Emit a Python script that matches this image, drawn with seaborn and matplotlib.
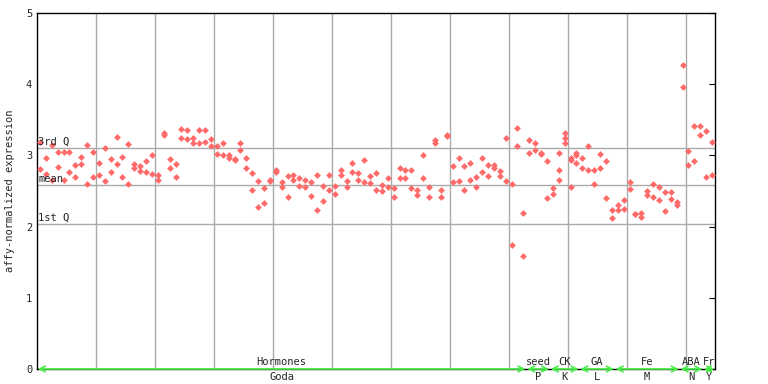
import seaborn as sns
import matplotlib.pyplot as plt
import pandas as pd

# values, one tuple of replicates per sample, by group
hormones = [
    (3.19, 2.81), (2.96, 2.74), (3.15, 2.65), (3.05, 2.84), (3.05, 2.65),
    (3.05, 2.76), (2.87, 2.70), (2.98, 2.88), (3.15, 2.60), (3.05, 2.70),
    (2.90, 2.72), (3.10, 2.64), (2.95, 2.76), (3.26, 2.88), (2.98, 2.70),
    (3.16, 2.60), (2.88, 2.82), (2.85, 2.78), (2.92, 2.77), (3.00, 2.74),
    (2.73, 2.66), (3.31, 3.29), (2.95, 2.83), (2.88, 2.69), (3.37, 3.24),
    (3.35, 3.23), (3.25, 3.17), (3.35, 3.17), (3.35, 3.19), (3.23, 3.13),
    (3.13, 3.02), (3.17, 3.01), (3.01, 2.97), (2.95, 2.93), (3.18, 3.07),
    (2.96, 2.82), (2.75, 2.51), (2.64, 2.28), (2.54, 2.33), (2.66, 2.64),
    (2.79, 2.76), (2.63, 2.56), (2.71, 2.42), (2.73, 2.66), (2.68, 2.57),
    (2.66, 2.55), (2.62, 2.43), (2.72, 2.24), (2.57, 2.36), (2.72, 2.52),
    (2.57, 2.46), (2.80, 2.72), (2.64, 2.55), (2.89, 2.76), (2.75, 2.65),
    (2.93, 2.62), (2.71, 2.61), (2.75, 2.51), (2.59, 2.50), (2.68, 2.55),
    (2.54, 2.41), (2.82, 2.68), (2.80, 2.68), (2.79, 2.54), (2.51, 2.44),
    (3.01, 2.68), (2.55, 2.41), (3.21, 3.18), (2.52, 2.42), (3.29, 3.27),
    (2.85, 2.62), (2.96, 2.64), (2.85, 2.52), (2.89, 2.65), (2.69, 2.55),
    (2.97, 2.76), (2.87, 2.71), (2.87, 2.82), (2.78, 2.71), (3.25, 2.64),
    (2.60, 1.74), (3.38, 3.13), (2.19, 1.59),
]
seed = [(3.22, 3.03), (3.18, 3.08), (3.03, 3.02), (2.92, 2.40)]
ck = [(2.54, 2.46), (3.04, 2.79, 2.66), (3.32, 3.25, 3.17),
      (2.97, 2.93, 2.56), (3.03, 3.00, 2.89)]
ga = [(2.97, 2.83), (3.13, 2.79), (2.79, 2.60), (3.02, 2.83), (2.92, 2.40),
      (2.24, 2.12)]
fe = [(2.31, 2.24), (2.38, 2.25), (2.63, 2.53), (2.18, 2.17), (2.19, 2.13),
      (2.50, 2.45), (2.60, 2.41), (2.56, 2.38), (2.49, 2.22), (2.49, 2.39),
      (2.35, 2.30)]
aba = [(4.27, 3.96), (3.06, 2.87), (3.41, 2.92), (3.41, 3.28)]
fr = [(3.34, 2.70), (3.19, 2.72)]

groups = [hormones, seed, ck, ga, fe, aba, fr]
top_labels = ['Hormones', 'seed', 'CK', 'GA', 'Fe', 'ABA', 'Fr']
bottom_labels = ['Goda', 'P', 'K', 'L', 'M', 'N', 'Y']

q3, mean, q1 = 3.10, 2.58, 2.04

# long table: sample position + value
rows = []
pos = 0
for g in groups:
    for reps in g:
        for v in reps:
            rows.append({'sample': pos, 'expr': v})
        pos += 1
df = pd.DataFrame(rows)
n_samples = pos

sns.set_style('white')
plt.rcParams['font.family'] = ['DejaVu Sans Mono']

fig = plt.figure(figsize=(7.68, 3.84), dpi=100)
ax = fig.add_axes([37 / 768, 15 / 384, 678 / 768, 356 / 384])

sns.scatterplot(data=df, x='sample', y='expr', marker='D', s=12,
                color='#ff6a6a', linewidth=0, ax=ax, zorder=3)

ax.set_xlim(-0.5, n_samples - 0.5)
ax.set_ylim(0, 5)

# vertical grid every 10 samples
ax.set_xticks([i + 0.5 for i in range(9, n_samples - 1, 10)])
ax.set_xticklabels([])
ax.tick_params(axis='x', length=0)
ax.grid(axis='x', color='#aaaaaa', lw=1)
ax.set_axisbelow(True)

for yv, lab in [(q3, '3rd Q'), (mean, 'mean'), (q1, '1st Q')]:
    ax.axhline(yv, color='#aaaaaa', lw=1, zorder=1)
    ax.text(-0.3, yv + 0.02, lab, fontsize=7.5, va='bottom', ha='left', zorder=4)

ax.set_yticks(range(6))
ax.tick_params(axis='y', direction='in', length=4.5, right=True, labelsize=7.5,
               width=0.8, color='black')
ax.set_xlabel('')
ax.set_ylabel('affy-normalized expression', fontsize=7.5, labelpad=8)
for sp in ax.spines.values():
    sp.set_color('black')
    sp.set_linewidth(1)

# group arrows along the x axis
start = -0.5
for g, top, bot in zip(groups, top_labels, bottom_labels):
    end = start + len(g)
    ax.annotate('', xy=(start + 0.15, 0), xytext=(end - 0.15, 0),
                arrowprops=dict(arrowstyle='<->', color='#44ee44', lw=1.2,
                                shrinkA=0, shrinkB=0),
                annotation_clip=False, zorder=5)
    mid = (start + end) / 2
    ax.annotate(top, xy=(mid, 0), xytext=(0, 1.5), textcoords='offset points',
                ha='center', va='bottom', fontsize=7.5, annotation_clip=False)
    ax.annotate(bot, xy=(mid, 0), xytext=(0, -2), textcoords='offset points',
                ha='center', va='top', fontsize=7.5, annotation_clip=False)
    start = end

plt.savefig('out.png', dpi=100)
